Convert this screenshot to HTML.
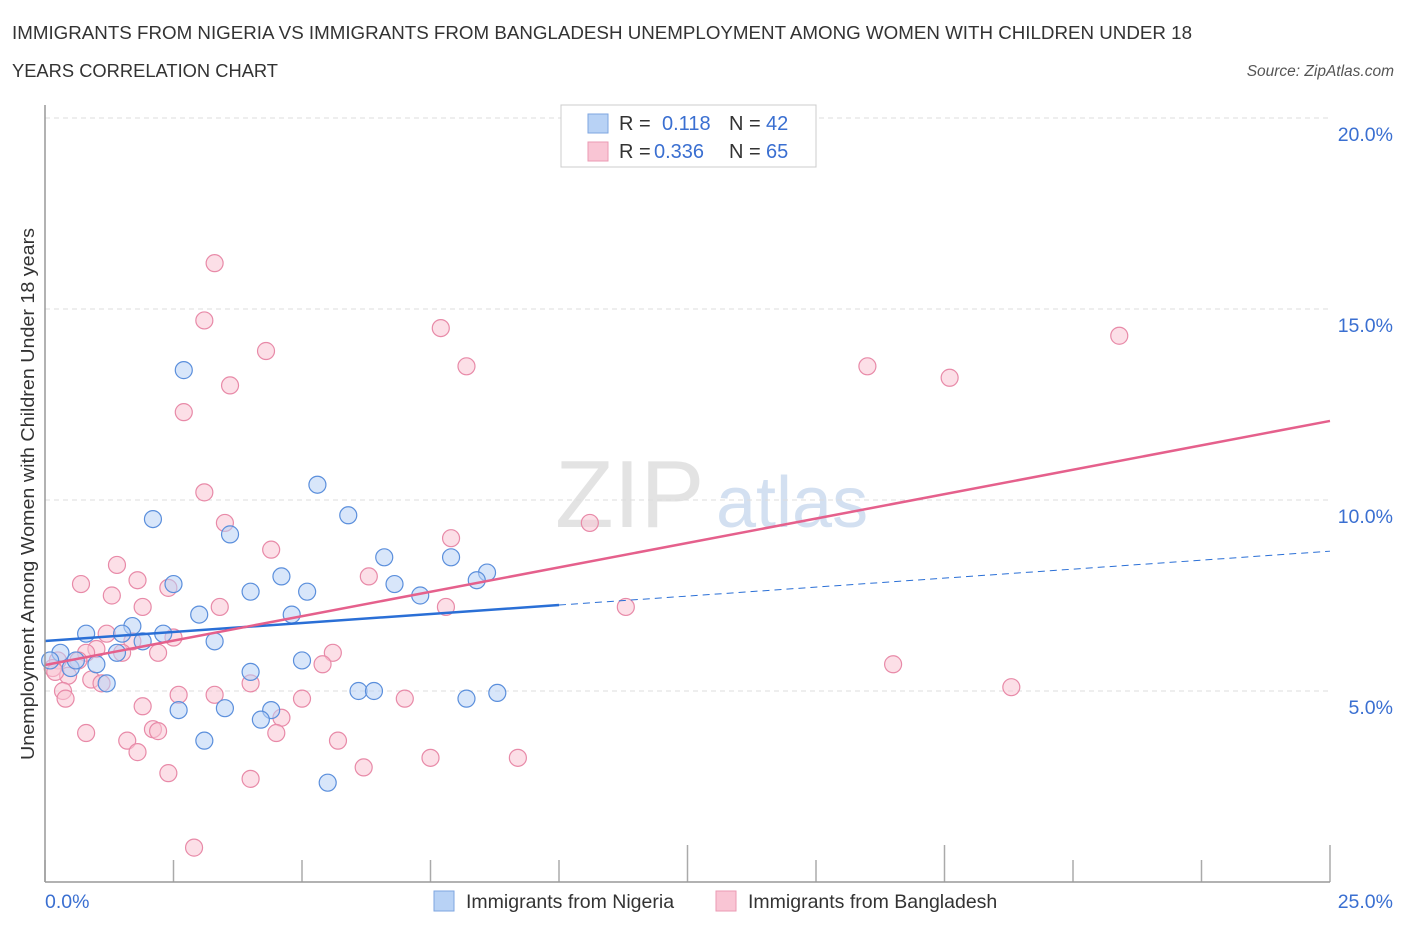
<!DOCTYPE html>
<html><head><meta charset="utf-8"><style>
body{margin:0;background:#fff;font-family:"Liberation Sans",sans-serif}
svg text{font-family:"Liberation Sans",sans-serif}
</style></head><body>
<svg id="chart" width="1406" height="930" xmlns="http://www.w3.org/2000/svg">
<text x="12" y="39" font-size="18.5" fill="#333" textLength="1180" lengthAdjust="spacingAndGlyphs">IMMIGRANTS FROM NIGERIA VS IMMIGRANTS FROM BANGLADESH UNEMPLOYMENT AMONG WOMEN WITH CHILDREN UNDER 18</text>
<text x="12" y="77" font-size="18.5" fill="#333" textLength="266" lengthAdjust="spacingAndGlyphs">YEARS CORRELATION CHART</text>
<text x="1394" y="76" font-size="15.5" fill="#555" font-style="italic" text-anchor="end">Source: ZipAtlas.com</text>
<text x="555" y="527" font-size="96" fill="#ddd" font-family="Liberation Serif" opacity="0.8">ZIP</text>
<text x="716" y="527" font-size="72" fill="#c9d9ee" opacity="0.8">atlas</text>
<text transform="translate(34,494) rotate(-90)" font-size="18" fill="#333" text-anchor="middle" textLength="532" lengthAdjust="spacingAndGlyphs">Unemployment Among Women with Children Under 18 years</text>
<g id="grid"></g><g id="ticks"></g><g id="pts"></g><g id="lines"></g>
<line x1="45" y1="105" x2="45" y2="882" stroke="#999" stroke-width="1.5"/>
<line x1="45" y1="882" x2="1330" y2="882" stroke="#999" stroke-width="1.5"/>
<text x="45" y="908" font-size="19.5" fill="#3a6fd1">0.0%</text>
<text x="1393" y="908" font-size="19.5" fill="#3a6fd1" text-anchor="end">25.0%</text>
<g>
<rect x="561" y="105" width="255" height="62" fill="#fff" stroke="#ccc"/>
<rect x="588" y="114" width="20" height="19" fill="#b8d2f5" stroke="#7ea6e0"/>
<rect x="588" y="142" width="20" height="19" fill="#f9c5d4" stroke="#eb9ab3"/>
<text x="619" y="130" font-size="20" fill="#333">R =</text><text x="662" y="130" font-size="20" fill="#3a6fd1">0.118</text>
<text x="729" y="130" font-size="20" fill="#333">N =</text><text x="766" y="130" font-size="20" fill="#3a6fd1">42</text>
<text x="619" y="158" font-size="20" fill="#333">R =</text><text x="654" y="158" font-size="20" fill="#3a6fd1">0.336</text>
<text x="729" y="158" font-size="20" fill="#333">N =</text><text x="766" y="158" font-size="20" fill="#3a6fd1">65</text>
</g>
<g><rect x="434" y="891" width="20" height="20" fill="#b8d2f5" stroke="#7ea6e0"/><text x="466" y="908" font-size="19.5" fill="#333">Immigrants from Nigeria</text></g>
<g><rect x="716" y="891" width="20" height="20" fill="#f9c5d4" stroke="#eb9ab3"/><text x="748" y="908" font-size="19.5" fill="#333">Immigrants from Bangladesh</text></g>
</svg>
<script>
const yTicks=[5,10,15,20];
const yTickLabels=["5.0%","10.0%","15.0%","20.0%"];
const xTicks=[0,2.5,5,7.5,10,12.5,15,17.5,20,22.5,25];
const nigeriaX=[2.7,2.1,3.6,5.3,5.9,6.6,7.9,8.6,8.4,6.8,7.3,4.6,4.0,5.1,2.5,3.0,4.8,1.7,0.8,1.5,2.3,1.9,3.3,1.4,0.3,1.0,0.5,1.2,4.0,5.0,6.1,6.4,8.2,8.8,2.6,3.5,4.4,4.2,3.1,5.5,0.1,0.6];
const nigeriaY=[13.4,9.5,9.1,10.4,9.6,8.5,8.5,8.1,7.9,7.8,7.5,8.0,7.6,7.6,7.8,7.0,7.0,6.7,6.5,6.5,6.5,6.3,6.3,6.0,6.0,5.7,5.6,5.2,5.5,5.8,5.0,5.0,4.8,4.95,4.5,4.55,4.5,4.25,3.7,2.6,5.8,5.8];
const bangX=[3.3,3.1,4.3,7.7,8.2,3.6,2.7,3.1,3.5,4.4,7.9,10.6,20.9,16.0,17.6,1.4,0.7,1.8,1.3,2.4,1.9,3.4,7.8,11.3,6.3,1.2,1.7,2.5,1.0,1.5,2.2,0.8,5.6,5.4,16.5,18.8,0.25,0.15,0.45,0.65,0.9,0.35,1.1,4.0,2.6,3.3,5.0,7.0,0.4,1.9,0.8,4.6,2.1,2.2,4.5,1.6,5.7,1.8,6.2,7.5,9.2,2.4,4.0,2.9,0.2];
const bangY=[16.2,14.7,13.9,14.5,13.5,13.0,12.3,10.2,9.4,8.7,9.0,9.4,14.3,13.5,13.2,8.3,7.8,7.9,7.5,7.7,7.2,7.2,7.2,7.2,8.0,6.5,6.3,6.4,6.1,6.0,6.0,6.0,6.0,5.7,5.7,5.1,5.8,5.6,5.4,5.8,5.3,5.0,5.2,5.2,4.9,4.9,4.8,4.8,4.8,4.6,3.9,4.3,4.0,3.95,3.9,3.7,3.7,3.4,3.0,3.25,3.25,2.85,2.7,0.9,5.5];
const nigeriaTrend=[6.31,8.66], bangTrend=[5.68,12.07];
const X=v=>45+v*51.4, Y=v=>882-v*38.2;
const NS="http://www.w3.org/2000/svg";
function mk(p,t,a){const e=document.createElementNS(NS,t);for(const k in a)e.setAttribute(k,a[k]);document.getElementById(p).appendChild(e);return e;}
yTicks.forEach((t,i)=>{
 const l=mk('grid','line',{x1:45,x2:1330,y1:Y(t),y2:Y(t),stroke:'#ddd','stroke-dasharray':'5,4'});
 
 
 const tx=mk('grid','text',{x:1393,y:Y(t)+23,'font-size':19.5,fill:'#3a6fd1','text-anchor':'end'});
 tx.textContent=yTickLabels[i];
 
 
});
xTicks.forEach(t=>{
 const long=(t===12.5||t===17.5||t===25);
 const l=mk('ticks','line',{x1:X(t),x2:X(t),y1:long?845:860,y2:882,stroke:'#aaa','stroke-width':1.5});
 
 
});
function pts(xs,ys,fill,stroke,name){xs.forEach((x,i)=>{
 const c=mk('pts','circle',{cx:X(x),cy:Y(ys[i]),r:8.5,fill:fill,'fill-opacity':0.55,stroke:stroke,'stroke-width':1.2});
 
 
});}
pts(bangX,bangY,'#f9c5d4','#e88aa8','bangladesh-point');
pts(nigeriaX,nigeriaY,'#b8d2f5','#5b8fdc','nigeria-point');
const ny=x=>nigeriaTrend[0]+(nigeriaTrend[1]-nigeriaTrend[0])*x/25;
let l=mk('lines','line',{x1:X(0),y1:Y(ny(0)),x2:X(10),y2:Y(ny(10)),stroke:'#2a6fd6','stroke-width':2.5});


l=mk('lines','line',{x1:X(10),y1:Y(ny(10)),x2:X(25),y2:Y(ny(25)),stroke:'#2a6fd6','stroke-width':1,'stroke-dasharray':'7,5'});


l=mk('lines','line',{x1:X(0),y1:Y(bangTrend[0]),x2:X(25),y2:Y(bangTrend[1]),stroke:'#e5608c','stroke-width':2.5});


</script>
</body></html>
